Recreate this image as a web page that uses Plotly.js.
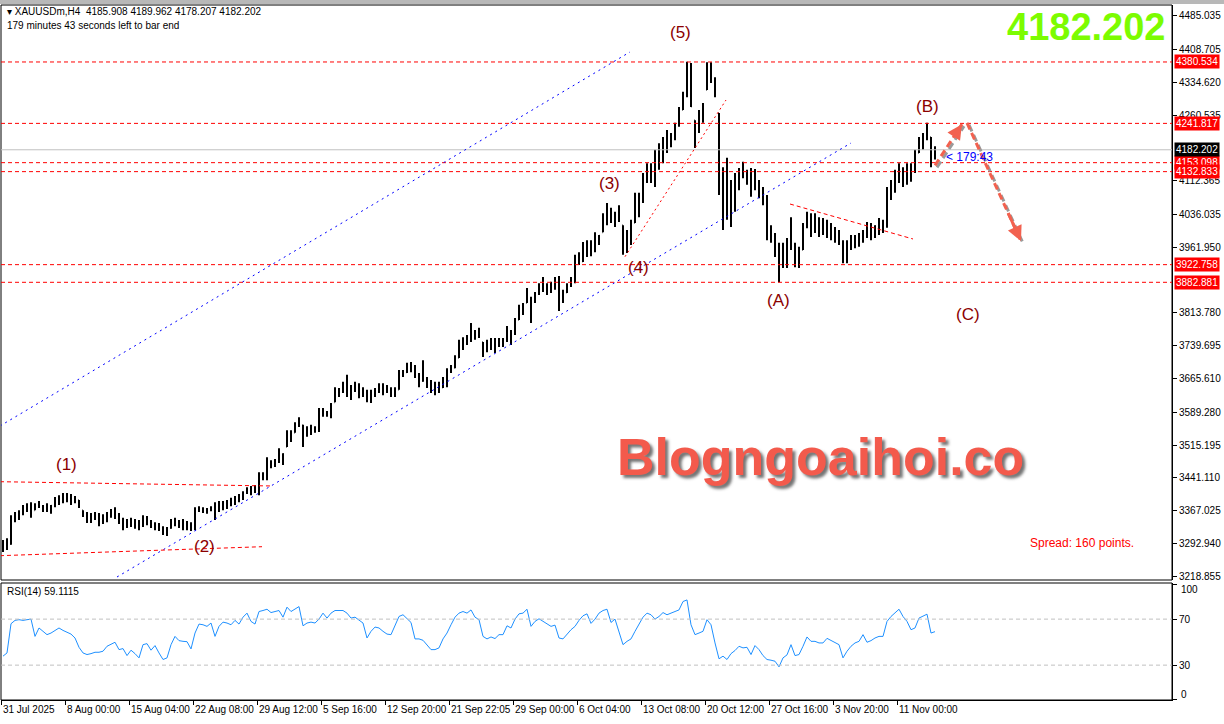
<!DOCTYPE html>
<html><head><meta charset="utf-8">
<script src="https://cdn.plot.ly/plotly-3.0.1.min.js"></script>
<style>html,body{margin:0;padding:0;background:#fff;}#chart{width:1224px;height:724px;}</style>
</head><body><div id="chart"></div>
<script>
// ---- DATA (XAUUSDm H4, each point, ~2 bars per point) ----
const openPrices = [
3285,3296,3292,3352,3350,3362,3370,3378,3368,3380,
3376,3370,3368,3378,3392,3396,3398,3400,3390,3391,
3368,3358,3348,3352,3350,3345,3350,3358,3365,3355,
3342,3335,3340,3336,3340,3338,3345,3340,3335,3328,
3326,3318,3328,3340,3338,3342,3330,3336,3330,3370,
3368,3365,3370,3372,3378,3372,3382,3388,3392,3396,
3400,3408,3412,3418,3410,3448,3440,3474,3470,3480,
3488,3511,3540,3543,3560,3560,3540,3548,3546,3550,
3592,3584,3588,3612,3630,3640,3648,3638,3640,3642,
3630,3636,3620,3630,3640,3645,3640,3638,3630,3640,
3680,3680,3690,3690,3672,3660,3662,3650,3640,3648,
3645,3660,3685,3690,3712,3740,3752,3760,3762,3770,
3748,3732,3745,3740,3750,3745,3752,3760,3768,3798,
3825,3836,3842,3845,3858,3876,3870,3868,3880,3870,
3850,3860,3878,3890,3940,3930,3965,3950,3972,3980,
3996,4030,4040,4025,4035,4012,3960,3990,4017,4075,
4065,4125,4120,4140,4170,4190,4205,4200,4215,4240,
4272,4305,4360,4249,4235,4265,4317,4350,4340,4265,
4120,4100,4050,4100,4120,4130,4130,4110,4120,4100,
4090,4070,3990,3985,3950,3930,3950,3970,3960,3930,
3956,4010,4020,4030,4005,4015,4000,4010,3990,3995,
3975,3940,3970,3965,3985,3980,3995,4005,4000,4010,
4015,4010,4090,4105,4130,4120,4135,4115,4140,4175,
4195,4215,4211,4165];
const highPrices = [
3301,3305,3357,3364,3368,3380,3384,3386,3384,3389,
3380,3384,3380,3398,3402,3407,3407,3405,3400,3391,
3368,3364,3362,3364,3362,3359,3364,3371,3375,3362,
3351,3348,3351,3348,3346,3357,3355,3346,3341,3339,
3332,3330,3348,3351,3346,3348,3344,3341,3375,3377,
3375,3373,3377,3386,3389,3389,3391,3396,3400,3405,
3411,3420,3423,3425,3454,3454,3488,3481,3484,3508,
3497,3549,3549,3567,3578,3561,3558,3561,3558,3599,
3599,3592,3610,3646,3644,3658,3674,3651,3658,3655,
3646,3640,3640,3644,3655,3655,3651,3646,3646,3685,
3685,3701,3703,3696,3678,3707,3669,3662,3658,3658,
3669,3689,3696,3718,3753,3759,3764,3791,3775,3780,
3748,3753,3757,3757,3757,3757,3784,3775,3802,3832,
3836,3870,3850,3861,3881,3895,3881,3884,3895,3897,
3866,3881,3895,3945,3951,3974,3978,3978,3996,3990,
4039,4062,4051,4042,4057,4012,4001,4024,4085,4085,
4130,4152,4152,4182,4197,4211,4227,4220,4243,4279,
4313,4381,4378,4249,4272,4288,4380,4380,4346,4265,
4143,4164,4114,4130,4141,4155,4137,4141,4139,4114,
4098,4080,4012,3994,3972,3972,3983,4030,3972,3963,
4017,4042,4039,4039,4030,4028,4024,4017,4008,4001,
3978,3978,3990,3990,3994,4001,4019,4017,4012,4028,
4024,4098,4114,4137,4152,4143,4152,4152,4182,4211,
4220,4243,4211,4189.962];
const lowPrices = [
3274,3278,3290,3341,3346,3357,3364,3351,3368,3373,
3364,3364,3360,3375,3380,3384,3386,3380,3384,3373,
3353,3339,3339,3346,3332,3337,3341,3351,3348,3337,
3323,3328,3330,3326,3323,3330,3334,3328,3323,3321,
3312,3310,3326,3332,3328,3323,3323,3321,3323,3364,
3362,3360,3366,3346,3364,3368,3371,3377,3380,3386,
3391,3405,3402,3407,3402,3436,3436,3463,3466,3475,
3470,3511,3522,3543,3556,3511,3534,3538,3543,3545,
3579,3579,3576,3612,3624,3633,3624,3617,3635,3621,
3624,3612,3610,3624,3633,3628,3633,3624,3624,3640,
3669,3678,3680,3667,3646,3658,3644,3633,3628,3633,
3644,3646,3678,3689,3712,3730,3741,3748,3753,3757,
3714,3725,3730,3723,3737,3737,3748,3741,3764,3798,
3809,3836,3791,3836,3854,3861,3854,3859,3866,3818,
3836,3859,3872,3881,3922,3929,3940,3942,3951,3967,
3996,4012,4017,4008,4019,3945,3949,3967,4017,4030,
4062,4107,4107,4098,4137,4152,4175,4188,4204,4234,
4272,4301,4279,4186,4220,4243,4317,4333,4301,4080,
4001,4024,4008,4042,4091,4118,4103,4076,4091,4073,
4057,3978,3972,3940,3883,3915,3915,3956,3917,3915,
3956,4005,3985,3994,3985,3990,3983,3978,3972,3967,
3926,3926,3956,3960,3963,3972,3983,3978,3983,3990,
3994,4006,4069,4085,4107,4098,4103,4110,4130,4175,
4182,4204,4143,4160];
const closePrices = [
3296,3292,3352,3350,3362,3370,3378,3360,3380,3376,
3370,3368,3378,3392,3396,3398,3400,3390,3392,3376,
3358,3348,3352,3350,3345,3350,3358,3365,3355,3342,
3335,3340,3336,3340,3338,3345,3340,3335,3328,3326,
3318,3328,3340,3338,3342,3330,3336,3330,3370,3368,
3365,3370,3372,3378,3372,3382,3388,3392,3396,3400,
3408,3412,3418,3410,3448,3440,3474,3470,3480,3488,
3495,3540,3530,3560,3560,3540,3548,3546,3550,3592,
3584,3588,3606,3630,3640,3648,3638,3640,3642,3630,
3636,3620,3630,3640,3645,3640,3638,3630,3640,3680,
3680,3690,3690,3672,3660,3662,3650,3640,3648,3645,
3660,3685,3690,3712,3740,3752,3760,3762,3770,3760,
3732,3745,3740,3750,3745,3752,3760,3768,3798,3825,
3830,3842,3845,3858,3876,3870,3868,3880,3870,3850,
3860,3878,3890,3940,3930,3965,3950,3972,3980,3988,
4030,4040,4025,4035,4030,3960,3990,4015,4075,4065,
4125,4120,4140,4170,4190,4205,4200,4215,4240,4270,
4305,4360,4280,4235,4265,4280,4350,4340,4310,4120,
4100,4050,4100,4120,4130,4130,4110,4120,4100,4090,
4070,3990,3985,3950,3930,3950,3970,3960,3930,3950,
4010,4020,4030,4005,4015,4000,4010,3990,3995,3975,
3940,3970,3965,3985,3980,3995,4005,4000,4010,4015,
4010,4090,4105,4130,4120,4135,4115,4140,4175,4195,
4215,4230,4160,4182.202];
const rsiValues = [
37.8,40.6,66,68.9,69.5,68.9,69.5,70,55,62.3,
59.4,56.5,57.9,60,62.3,60.2,58.5,57,53.6,45.5,
40.6,39.2,40,41.2,41.2,42.1,46.4,47.8,49.9,43.5,
44.4,38.3,43,40,36.3,47.8,48.7,43,47,40.6,
34.9,36.3,47.8,55,51.3,50.7,50.4,44.1,57.9,65.7,
65.1,63.7,66.6,55,63.7,67.4,66.6,65.1,68.9,65.7,
71.7,75.2,68,65.7,76.6,77.5,78.6,75.7,76.6,77.5,
71.7,80.4,76.6,78.6,80.9,64.2,66.6,67.4,66.6,70,
75.2,70.9,75.2,77.5,77.5,77.5,75.2,70.9,71.7,68.9,
66.6,53.6,59.4,63.1,62.3,59.4,57,56.5,63.7,72.3,
73.8,70,67.1,52.8,52.8,51.6,47.8,43.5,43.5,45,
52.8,57.9,65.1,71.7,75.2,76.6,75.2,78,71.7,69.5,
55,52.8,54.5,53.1,56.5,56.5,64.2,62.3,70,74.6,
75.2,78.6,63.7,68,70.3,68,65.4,63.7,64.8,53.6,
52.8,57.3,60.8,63.7,68.9,72.9,74.6,66.3,70,75.2,
77.5,78.6,67.1,70,57.9,47.8,50.7,52.8,59.4,65.1,
71.7,75.2,73.8,70,72.3,75.7,73.8,75.2,76.6,78,
85.3,86.7,65.1,56.5,57.9,59.4,69.5,65.1,49.3,35.5,
37.8,34.9,40,42.7,46.4,45,45.5,39.2,47,43.5,
38.3,34.9,34.3,33.4,28.5,36.3,38.9,47.8,38.3,39.2,
46.4,54.5,50.7,50.7,49.3,49.3,53.3,51.6,49.3,47.8,
36.3,42.1,46.4,49.3,50.7,56.5,49.9,51.3,53.6,55,
55,68,72.3,75.2,78.6,72.3,68,60.8,62.3,70.9,
72.3,74.3,57.9,59.1115];
const xTickLabels = ['31 Jul 2025','8 Aug 00:00','15 Aug 04:00','22 Aug 08:00','29 Aug 12:00','5 Sep 16:00','12 Sep 20:00','21 Sep 22:05','29 Sep 00:00','6 Oct 04:00','13 Oct 08:00','20 Oct 12:00','27 Oct 16:00','3 Nov 20:00','11 Nov 00:00'];
const yTickValues = [4485.035,4408.705,4334.620,4260.535,4112.365,4036.035,3961.950,3813.780,3739.695,3665.610,3589.280,3515.195,3441.110,3367.025,3292.940,3218.855];
const levelPrices = [4380.534,4241.817,4153.098,4132.833,3922.758,3882.881];
const bidPrice = 4182.202;
const lastBar = {open:4185.908, high:4189.962, low:4178.207, close:4182.202};
const rsiLevels = [70,30];
const rsiLast = 59.1115;
const spreadPoints = 160;
const waveLabels = ['(1)','(2)','(3)','(4)','(5)','(A)','(B)','(C)'];

// ---- LAYOUT ----
const FONT = 'Liberation Sans, Arial, sans-serif';
const N = closePrices.length;
const barIdx = Array.from({length:N},(_,i)=>i);
const mainDom = [120/695, 1];
const rsiDom = [0, 117/695];
const yMainRange = [3210.5, 4509.2];
const yRsiRange = [-0.3, 101.4];
const xRange = [-0.5, 292.25];

const traces = [
 {type:'ohlc', x:barIdx, open:openPrices, high:highPrices, low:lowPrices, close:closePrices,
  xaxis:'x', yaxis:'y', tickwidth:0.12, hoverinfo:'skip', showlegend:false,
  increasing:{line:{color:'#000000', width:2}}, decreasing:{line:{color:'#000000', width:2}}},
 {type:'scatter', mode:'lines', x:barIdx, y:rsiValues, xaxis:'x', yaxis:'y2',
  line:{color:'#1e90ff', width:1}, hoverinfo:'skip', showlegend:false}
];

const shapes = [];
shapes.push({type:'rect', xref:'paper', yref:'paper', x0:-0.01, x1:1.06, y0:1+1/695, y1:1+6/695, fillcolor:'#b8b8b8', line:{width:0}});
shapes.push({type:'rect', xref:'paper', yref:'paper', x0:0, x1:1, y0:mainDom[0], y1:1, line:{color:'#000', width:1}});
shapes.push({type:'rect', xref:'paper', yref:'paper', x0:0, x1:1, y0:rsiDom[0], y1:rsiDom[1], line:{color:'#000', width:1}});
shapes.push({type:'line', xref:'paper', yref:'y', x0:0, x1:1, y0:bidPrice, y1:bidPrice, line:{color:'#c0c0c0', width:1}});
levelPrices.forEach(p=>shapes.push({type:'line', xref:'paper', yref:'y', x0:0, x1:1, y0:p, y1:p, line:{color:'#ff0000', width:1, dash:'4px,3px'}}));
rsiLevels.forEach(v=>shapes.push({type:'line', xref:'paper', yref:'y2', x0:0, x1:1, y0:v, y1:v, line:{color:'#c0c0c0', width:1, dash:'4px,3px'}}));
const segs = [
 {p:[-0.75,3558.4,156.75,4403.1], c:'#0000ff', d:'2px,4px'},
 {p:[28.5,3217.3,212,4197.5], c:'#0000ff', d:'2px,4px'},
 {p:[-0.75,3432.5,67.5,3422.8], c:'#ff0000', d:'4px,3px'},
 {p:[-0.75,3265.4,64.75,3285.7], c:'#ff0000', d:'4px,3px'},
 {p:[155.5,3940.7,180.75,4294.6], c:'#ff0000', d:'2px,3px'},
 {p:[196.75,4059.7,227.5,3980.7], c:'#ff0000', d:'4px,3px'}
];
segs.forEach(s=>shapes.push({type:'line', xref:'x', yref:'y', x0:s.p[0], y0:s.p[1], x1:s.p[2], y1:s.p[3], line:{color:s.c, width:1, dash:s.d}}));
const arrows = [[233,4147,239.75,4240],[241,4242.7,254.5,3976]];
const arrowCol = '#f2614f';
arrows.forEach(a=>{
 shapes.push({type:'line', xref:'x', yref:'y', x0:a[0]+0.5, y0:a[1]-4.5, x1:a[2]+0.5, y1:a[3]-4.5, line:{color:'#9a9a9a', width:3, dash:'7px,4px'}});
 shapes.push({type:'line', xref:'x', yref:'y', x0:a[0], y0:a[1], x1:a[2], y1:a[3], line:{color:arrowCol, width:3, dash:'7px,4px'}});
});

const ann = [];
const txt = (o)=>Object.assign({showarrow:false, font:{family:FONT, size:10, color:'#000'}}, o);
ann.push(txt({xref:'paper', yref:'paper', x:0.0034, y:688/695, xanchor:'left', yanchor:'middle',
 text:'\u25BE XAUUSDm,H4\u00a0\u00a0'+lastBar.open.toFixed(3)+' '+lastBar.high.toFixed(3)+' '+lastBar.low.toFixed(3)+' '+lastBar.close.toFixed(3)}));
ann.push(txt({xref:'paper', yref:'paper', x:0.0034, y:675/695, xanchor:'left', yanchor:'middle',
 text:'179 minutes 43 seconds left to bar end'}));
ann.push({xref:'paper', yref:'paper', x:1167/1171, y:673/695, xanchor:'right', yanchor:'middle', showarrow:false,
 text:'<b>'+bidPrice.toFixed(3)+'</b>', font:{family:FONT, size:38, color:'#7cfc00'}});
ann.push({xref:'paper', yref:'paper', x:819/1171, y:243/695, xanchor:'center', yanchor:'middle', showarrow:false,
 text:'<b>Blogngoaihoi.co</b>', font:{family:FONT, size:52, color:'#f35a4c', shadow:'3px 3px 3px rgba(70,70,70,0.75)'}});
ann.push(txt({xref:'paper', yref:'paper', x:1027/1171, y:157/695, xanchor:'left', yanchor:'middle',
 text:'Spread: '+spreadPoints+' points.', font:{family:FONT, size:12, color:'#ff0000'}}));
ann.push(txt({xref:'paper', yref:'paper', x:0.0034, y:109/695, xanchor:'left', yanchor:'middle',
 text:'RSI(14) '+rsiLast.toFixed(4)}));
ann.push(txt({xref:'x', yref:'y', x:235.3, y:4166, xanchor:'left', yanchor:'middle',
 text:'&lt; 179:43', font:{family:FONT, size:12, color:'#0000ff'}}));
const wavePos = [[15.75,3472],[50.25,3287],[151.5,4107],[158.75,3917],[169.25,4446],[193.75,3841],[231,4281],[241.25,3811]];
waveLabels.forEach((t,k)=>ann.push(txt({xref:'x', yref:'y', x:wavePos[k][0], y:wavePos[k][1], xanchor:'center', yanchor:'middle',
 text:t, font:{family:FONT, size:17, color:'#8b0000'}})));
levelPrices.forEach(p=>ann.push(txt({xref:'paper', yref:'y', x:1, xshift:2, y:p, xanchor:'left', yanchor:'middle',
 text:p.toFixed(3), bgcolor:'#ff0000', borderpad:1, font:{family:FONT, size:10, color:'#ffffff'}})));
ann.push(txt({xref:'paper', yref:'y', x:1, xshift:2, y:bidPrice, xanchor:'left', yanchor:'middle',
 text:bidPrice.toFixed(3), bgcolor:'#000000', borderpad:1, font:{family:FONT, size:10, color:'#ffffff'}}));
ann.push(txt({xref:'paper', yref:'y2', x:1, xshift:7, y:100, yshift:-5, xanchor:'left', yanchor:'middle', text:'100'}));
ann.push(txt({xref:'paper', yref:'y2', x:1, xshift:7, y:0, yshift:5, xanchor:'left', yanchor:'middle', text:'0'}));
arrows.forEach(a=>{
 const tx = a[2]-(a[2]-a[0])*0.25, ty = a[3]-(a[3]-a[1])*0.25;
 ann.push({xref:'x', yref:'y', axref:'x', ayref:'y', x:a[2], y:a[3], ax:tx, ay:ty, showarrow:true, text:'',
  arrowhead:2, arrowsize:1, arrowwidth:3, arrowcolor:arrowCol});
});

const layout = {
 width:1224, height:724, margin:{l:1, r:52, t:5, b:24, pad:0},
 paper_bgcolor:'#ffffff', plot_bgcolor:'#ffffff', showlegend:false,
 font:{family:FONT, size:10, color:'#000'},
 xaxis:{domain:[0,1], anchor:'y2', range:xRange, autorange:false, rangeslider:{visible:false},
  tickmode:'array', tickvals:xTickLabels.map((_,k)=>16*k-0.275), ticktext:xTickLabels, tickangle:0,
  ticks:'outside', ticklen:4, tickcolor:'#000', ticklabelposition:'outside right',
  tickfont:{family:FONT, size:10, color:'#000'}, showgrid:false, zeroline:false, showline:true, linecolor:'#000', linewidth:1},
 yaxis:{domain:mainDom, anchor:'x', side:'right', range:yMainRange, autorange:false,
  tickmode:'array', tickvals:yTickValues, ticktext:yTickValues.map(v=>v.toFixed(3)),
  ticks:'outside', ticklen:4, tickcolor:'#000', tickfont:{family:FONT, size:10, color:'#000'},
  showgrid:false, zeroline:false, showline:true, linecolor:'#000', linewidth:1},
 yaxis2:{domain:rsiDom, anchor:'x', side:'right', range:yRsiRange, autorange:false,
  tickmode:'array', tickvals:[100,70,30,0], ticktext:['','70','30',''],
  ticks:'outside', ticklen:4, tickcolor:'#000', tickfont:{family:FONT, size:10, color:'#000'},
  showgrid:false, zeroline:false, showline:true, linecolor:'#000', linewidth:1},
 shapes:shapes, annotations:ann
};
Plotly.newPlot('chart', traces, layout, {staticPlot:true, displayModeBar:false});
</script></body></html>
